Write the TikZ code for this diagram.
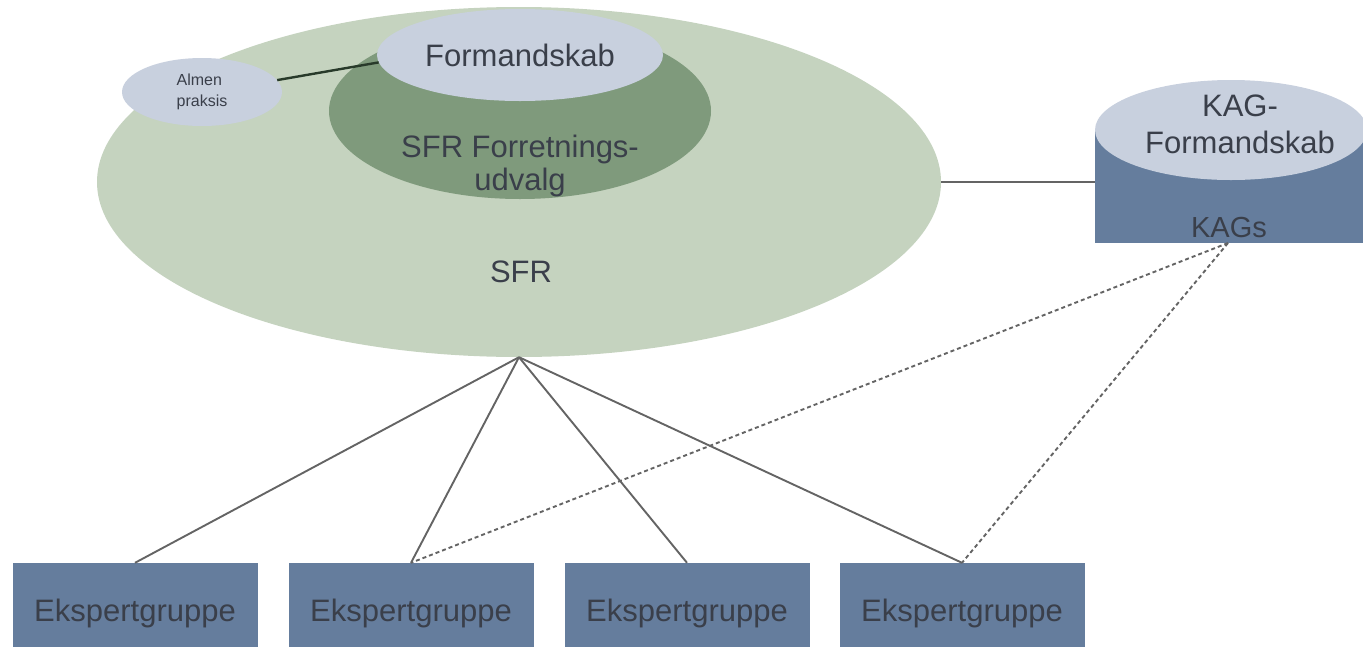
\documentclass[tikz,border=0pt]{standalone}
\usepackage{fontspec}
\setmainfont{Liberation Sans}
\usetikzlibrary{shapes.geometric}

\definecolor{sfrfill}{RGB}{197,211,191}
\definecolor{fufill}{RGB}{127,154,124}
\definecolor{palefill}{RGB}{200,208,222}
\definecolor{slatefill}{RGB}{101,125,157}
\definecolor{labelgrey}{RGB}{58,63,74}
\definecolor{linkgrey}{RGB}{100,100,100}
\definecolor{linkdark}{RGB}{40,58,42}

\tikzset{
  oval/.style={ellipse, draw=none, inner sep=0pt, text=labelgrey,
    font=\fontsize{31}{35}\selectfont, align=center},
  groupbox/.style={rectangle, draw=none, fill=slatefill, inner sep=0pt,
    minimum width=245pt, minimum height=100pt, text=labelgrey,
    font=\fontsize{31}{35}\selectfont},
  txt/.style={text=labelgrey, font=\fontsize{31}{33}\selectfont, align=center, inner sep=0pt},
  solidlink/.style={draw=linkgrey, line width=1.9pt},
  dashlink/.style={draw=linkgrey, line width=1.9pt, dash pattern=on 4pt off 3pt}
}

\begin{document}
\begin{tikzpicture}[x=1pt,y=-1pt]
  \useasboundingbox (0,0) rectangle (1363,646);
  \clip (0,0) rectangle (1363,646);

  % SFR and its inner circles
  \node[oval, fill=sfrfill, minimum width=844pt, minimum height=350pt] (sfr) at (519,182) {};
  \node[txt] (sfrtxt) at (521,272) {SFR};
  \node[oval, fill=fufill, minimum width=382pt, minimum height=176pt] (fu) at (520,111) {};
  \node[txt] (futxt) at (520,166) {SFR Forretnings-\\udvalg};
  \node[oval, fill=palefill, minimum width=286pt, minimum height=92pt] (form) at (520,55) {Formandskab};
  \node[oval, fill=palefill, minimum width=160pt, minimum height=68pt,
        font=\fontsize{16}{21}\selectfont, align=left] (almen) at (202,92) {Almen\\praksis};
  \draw[draw=linkdark, line width=2.4pt] (almen.9) -- (form.183);

  % KAG cylinder: body with flat top ellipse
  \node[rectangle, fill=slatefill, inner sep=0pt, minimum width=270pt, minimum height=113pt,
        anchor=north west] (kags) at (1095,130) {};
  \node[txt, font=\fontsize{29}{32}\selectfont] (kagstxt) at (1229,228) {KAGs};
  \node[oval, fill=palefill, minimum width=272pt, minimum height=100pt] (kagform) at (1231,130) {};
  \node[txt, font=\fontsize{31}{37}\selectfont] (kagformtxt) at (1240,124) {KAG-\\Formandskab};

  % expert groups
  \node[groupbox] (e1) at (135,613) {Ekspertgruppe};
  \node[groupbox] (e2) at (411,613) {Ekspertgruppe};
  \node[groupbox] (e3) at (687,613) {Ekspertgruppe};
  \node[groupbox] (e4) at (962,613) {Ekspertgruppe};

  % connectors
  \draw[solidlink] (sfr.east) -- (kags.west |- sfr.east);
  \foreach \g in {e1,e2,e3,e4}
    \draw[solidlink] (sfr.south) -- (\g.north);
  \coordinate (kagsfoot) at (1228,243);
  \draw[dashlink] (kagsfoot) -- (e2.north);
  \draw[dashlink] (kagsfoot) -- (e4.north);
\end{tikzpicture}
\end{document}
